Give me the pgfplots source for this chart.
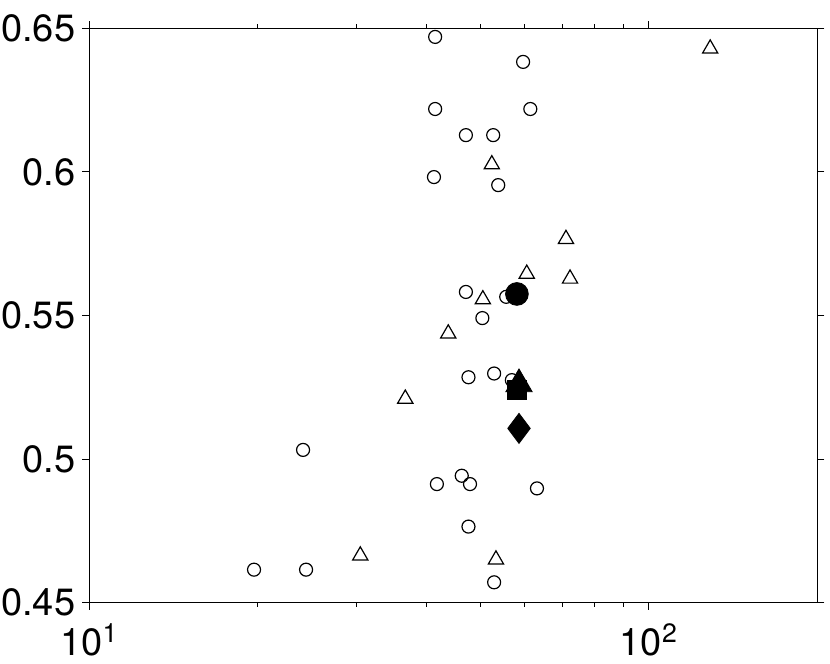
\documentclass[border=0pt]{standalone}
\usepackage{fontspec}
\setmainfont{TeX Gyre Heros}
\usepackage{pgfplots}
\pgfplotsset{compat=1.18}
\begin{document}
\begin{tikzpicture}
\begin{axis}[
  xmode=log, log basis x=10,
  scale only axis, width=364pt, height=287.2pt,
  xmin=10, xmax=200, ymin=0.45, ymax=0.65,
  xtick={10,100}, xticklabels={10\textsuperscript{1},10\textsuperscript{2}},
  minor xtick={20,30,40,50,60,70,80,90},
  ytick={0.45,0.5,0.55,0.6,0.65}, yticklabels={0.45,0.5,0.55,0.6,0.65},
  tick align=outside, tick pos=both,
  xticklabel pos=lower, yticklabel pos=left,
  major tick length=3.5pt, minor tick length=2pt,
  every tick/.style={black, line width=0.5pt},
  axis line style={line width=0.6pt},
  tick label style={font=\fontsize{19}{22}\selectfont},
  xticklabel style={yshift=-6pt, inner sep=1pt},
  /pgf/number format/assume math mode=true,
  clip=false,
]
\addplot[only marks, mark=o, mark size=3.25pt, mark options={line width=0.6pt, black}] coordinates {
(41.5,0.647) (59.6,0.6383) (41.5,0.6219) (61.4,0.6219) (47.1,0.6128) (52.7,0.6128)
(41.3,0.5982) (53.8,0.5954) (47.1,0.5582) (55.6,0.5565) (50.4,0.5491)
(47.6,0.5285) (52.9,0.5298) (56.9,0.5275) (24.1,0.5032) (46.3,0.4942)
(41.8,0.4913) (47.9,0.4913) (63.1,0.4898) (47.6,0.4765) (19.7,0.4615)
(24.4,0.4615) (52.9,0.4571)
};
\addplot[only marks, mark=triangle, mark size=4.4pt, mark options={line width=0.6pt, black}] coordinates {
(128.7,0.6429) (52.4,0.6026) (71.1,0.5766) (60.5,0.5645) (72.3,0.5628)
(50.5,0.5556) (43.8,0.5437) (36.7,0.5210) (30.5,0.4664) (53.3,0.4650)
};
\addplot[only marks, mark=square*, mark size=4.8pt, mark options={black, fill=black}] coordinates {(58.1,0.5241)};
\addplot[only marks, mark=triangle*, mark size=7.6pt, mark options={black, fill=black}] coordinates {(58.6,0.5261)};
\addplot[only marks, mark=*, mark size=5.7pt, mark options={black, fill=black}] coordinates {(58.1,0.5575)};
\addplot[only marks, mark=diamond*, mark size=7.5pt, mark options={black, fill=black}] coordinates {(58.6,0.5107)};
\end{axis}
\pgfresetboundingbox
\path[use as bounding box] (-44.65pt,-30.65pt) rectangle (370.35pt,301.35pt);
\end{tikzpicture}
\end{document}
